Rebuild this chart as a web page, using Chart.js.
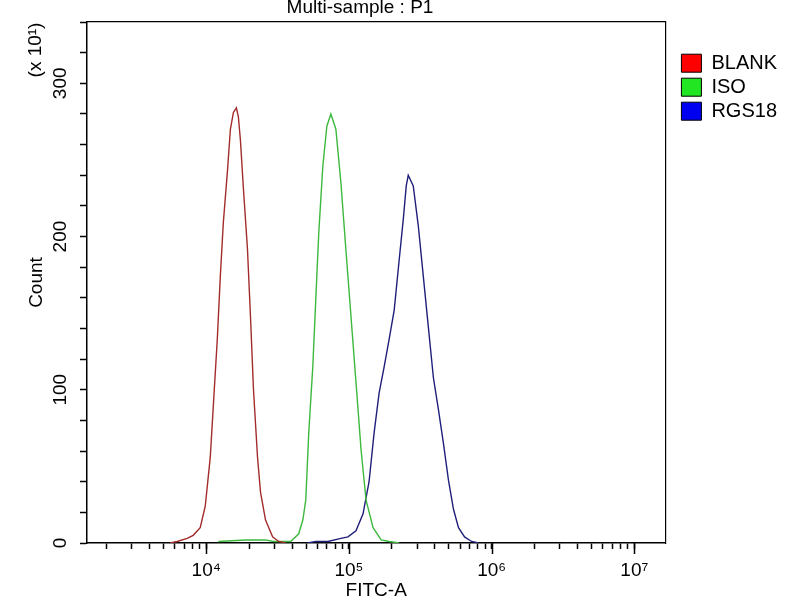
<!DOCTYPE html>
<html>
<head>
<meta charset="utf-8">
<script src="https://cdn.jsdelivr.net/npm/chart.js@4.4.1/dist/chart.umd.min.js"></script>
<style>
  html, body { margin: 0; padding: 0; background: #fff; }
</style>
</head>
<body>
<canvas id="myChart" width="800" height="600"></canvas>
<script>
const seriesNames = ['BLANK', 'ISO', 'RGS18'];

const blankFitc = [5580, 6250, 7350, 8100, 9070, 9840, 10670, 11200, 11950, 12550, 13170, 14060, 14760,
  15500, 16270, 16800, 17350, 18220, 19440, 20410, 21430, 22870, 24010, 26030, 29160, 32140, 36000];
const blankCount = [0, 1, 3, 5, 10, 24, 56, 89, 133, 174, 209, 242, 270,
  281, 284, 278, 263, 231, 192, 148, 100, 56, 33, 15, 4, 1, 0];

const isoFitc = [12150, 18820, 26030, 29640, 39050, 44450, 47500, 49810, 52270, 55790, 58550, 61480, 65610,
  70000, 74680, 80980, 87830, 95240, 103300, 112000, 121500, 131800, 147600, 168100, 191300, 225000];
const isoCount = [1, 2, 2, 1, 1, 6, 15, 28, 72, 115, 159, 203, 246,
  272, 280, 270, 235, 191, 148, 105, 61, 28, 10, 2, 1, 0];

const rgsFitc = [51440, 58550, 71140, 87830, 98400, 112000, 125500, 138300, 150100, 162700, 176400, 191300,
  207500, 225000, 240100, 252000, 260300, 282200, 306100, 331900, 359900, 390400, 423600, 459200, 498000,
  540000, 585600, 645600, 723200, 810000];
const rgsCount = [0, 1, 1, 3, 4, 8, 19, 40, 72, 98, 115, 133,
  152, 185, 211, 233, 240, 233, 207, 174, 141, 108, 87, 65, 41,
  22, 10, 4, 1, 0];

const xMajorTicks = [1e4, 1e5, 1e6, 1e7];
const xMajorLabels = ['10\u2074', '10\u2075', '10\u2076', '10\u2077'];
const yMajorTicks = [0, 100, 200, 300];

const chartTitle = 'Multi-sample : P1';
const xTitle = 'FITC-A';
const yTitle = 'Count';
const yUnitNote = '(x 10\u00b9)';

const FONT = '"Liberation Sans", Arial, sans-serif';
Chart.defaults.font.family = FONT;
Chart.defaults.color = '#000';

const lineColors = ['#a32b2b', '#3cb83c', '#1f1f7a'];
const boxColors = ['#ff0000', '#22e622', '#0000f0'];

function toPoints(xs, ys) {
  return xs.map((x, i) => ({ x: x, y: ys[i] }));
}

// marcas menores 2..9 de cada decada
const logTicks = [];
for (let e = 3; e <= 7; e++) {
  for (let m = 1; m <= 9; m++) logTicks.push(m * Math.pow(10, e));
}

// titulo, nota de unidades y marcas mayores mas largas
const extras = {
  id: 'extras',
  afterDraw(chart) {
    const ctx = chart.ctx;
    const area = chart.chartArea;
    const xs = chart.scales.x;
    ctx.save();
    ctx.strokeStyle = '#000';
    ctx.lineWidth = 1.5;
    xMajorTicks.forEach(v => {
      const px = Math.round(xs.getPixelForValue(v)) + 0.5;
      ctx.beginPath();
      ctx.moveTo(px, area.bottom);
      ctx.lineTo(px, area.bottom + 11);
      ctx.stroke();
    });
    ctx.fillStyle = '#000';
    ctx.font = '19px ' + FONT;
    ctx.textAlign = 'center';
    ctx.textBaseline = 'top';
    ctx.fillText(chartTitle, 360, -2);
    ctx.translate(36, 50);
    ctx.rotate(-Math.PI / 2);
    ctx.textBaseline = 'middle';
    ctx.fillText(yUnitNote, 0, 0);
    ctx.restore();
  }
};

const datasets = [
  { label: seriesNames[0], data: toPoints(blankFitc, blankCount), borderColor: lineColors[0] },
  { label: seriesNames[1], data: toPoints(isoFitc, isoCount), borderColor: lineColors[1] },
  { label: seriesNames[2], data: toPoints(rgsFitc, rgsCount), borderColor: lineColors[2] }
].map(ds => Object.assign(ds, { borderWidth: 1.4, pointRadius: 0, fill: false, tension: 0 }));

const ctx = document.getElementById('myChart').getContext('2d');
const myChart = new Chart(ctx, {
  type: 'line',
  data: { datasets: datasets },
  plugins: [extras],
  options: {
    responsive: false,
    animation: false,
    layout: { padding: { top: 22, right: 13, bottom: 0, left: 0 } },
    plugins: {
      title: { display: false },
      tooltip: { enabled: false },
      legend: {
        position: 'right',
        align: 'start',
        title: { display: true, text: '', padding: { top: 26, bottom: 0 }, font: { size: 1 } },
        labels: {
          boxWidth: 20,
          boxHeight: 18,
          padding: 4,
          color: '#000',
          font: { size: 20 },
          generateLabels: chart => chart.data.datasets.map((ds, i) => ({
            text: ds.label,
            fillStyle: boxColors[i],
            strokeStyle: '#000',
            lineWidth: 1,
            hidden: false,
            datasetIndex: i
          }))
        }
      }
    },
    scales: {
      x: {
        type: 'logarithmic',
        position: 'bottom',
        min: 1460,
        max: 1.65e7,
        afterBuildTicks: scale => { scale.ticks = logTicks.filter(v => v >= scale.min && v <= scale.max).map(v => ({ value: v })); },
        afterFit: scale => { scale.height = 57; },
        grid: { display: true, drawOnChartArea: false, drawTicks: true, tickLength: 6, tickColor: '#000', tickWidth: 1.5 },
        border: { display: true, color: '#000', width: 1.5 },
        ticks: {
          autoSkip: false, maxRotation: 0, minRotation: 0, padding: 10,
          font: { size: 19 }, color: '#000',
          callback: v => { const i = xMajorTicks.indexOf(v); return i >= 0 ? xMajorLabels[i] : ''; }
        },
        title: { display: true, text: xTitle, font: { size: 19, lineHeight: 1 }, padding: { top: 0, bottom: 0 }, color: '#000' }
      },
      y: {
        type: 'linear',
        position: 'left',
        min: 0,
        max: 340,
        afterFit: scale => { scale.width = 87; },
        grid: { display: true, drawOnChartArea: false, drawTicks: true, tickLength: 7, tickColor: '#000', tickWidth: 1.5 },
        border: { display: true, color: '#000', width: 1.5 },
        ticks: {
          stepSize: 20, autoSkip: false, minRotation: 90, maxRotation: 90, crossAlign: 'center', padding: 3,
          font: { size: 19 }, color: '#000',
          callback: v => yMajorTicks.includes(v) ? String(v) : ''
        },
        title: { display: true, text: yTitle, font: { size: 19 }, padding: { top: 25, bottom: 0 }, color: '#000' }
      },
      x2: {
        type: 'linear', position: 'top', display: true,
        grid: { display: false }, ticks: { display: false },
        border: { display: true, color: '#000', width: 1.2 },
        afterFit: scale => { scale.height = 0; }
      },
      y2: {
        type: 'linear', position: 'right', display: true,
        grid: { display: false }, ticks: { display: false },
        border: { display: true, color: '#000', width: 1.2 },
        afterFit: scale => { scale.width = 12; }
      }
    }
  }
});
</script>
</body>
</html>
